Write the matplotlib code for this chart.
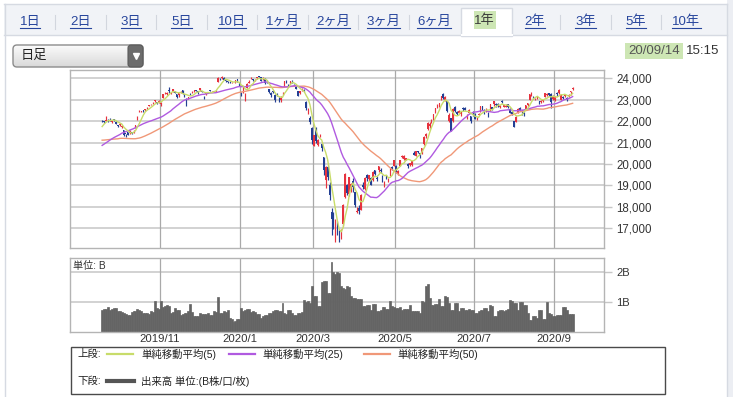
import numpy as np
import pandas as pd
import matplotlib
matplotlib.use('Agg')
import matplotlib.pyplot as plt
from matplotlib.patches import Rectangle, FancyBboxPatch
from matplotlib.colors import LinearSegmentedColormap

plt.rcParams['font.family'] = ['Liberation Sans', 'Noto Sans CJK JP']

# trading days per month on the chart (2019/9/17 .. 2020/9/14)
month_days = [9, 21, 20, 21, 19, 18, 21, 21, 18, 22, 21, 20, 10]
month_names = ['2019/9', '2019/10', '2019/11', '2019/12', '2020/1', '2020/2', '2020/3',
               '2020/4', '2020/5', '2020/6', '2020/7', '2020/8', '2020/9']
shown_months = ['2019/11', '2020/1', '2020/3', '2020/5', '2020/7', '2020/9']

period_tabs = ['1日', '2日', '3日', '5日', '10日', '1ヶ月', '2ヶ月', '3ヶ月', '6ヶ月',
               '1年', '2年', '3年', '5年', '10年']
selected_tab = '1年'

# closes before the first candle, only used for the moving averages
prior_closes = [21746, 21534, 21565, 21533, 21643, 21685, 21535, 21469, 20995, 21466, 21416, 21620,
                21709, 21756, 21658, 21616, 21709, 21521,
                21540, 21087, 20720, 20585, 20516, 20593, 20684, 20455, 20655, 20405, 20418, 20563,
                20677, 20618, 20628, 20710, 20261, 20456, 20479, 20460, 20704,
                20620, 20625, 20649, 21085, 21199, 21318, 21392, 21597, 21759, 21988]

opens = [22014, 22000, 22020, 22100, 22120, 21960, 22100, 21940, 21800,
         21830, 21750, 21590, 21420, 21480, 21430, 21460, 21530, 21690, 22100, 22430, 22450, 22500, 22500,
         22600, 22700, 22790, 22850, 22920, 22880, 22900,
         22810, 23100, 23300, 23290, 23460, 23300, 23350, 23400, 23250, 23200, 23400, 23450, 23250, 23050,
         23100, 23300, 23330, 23400, 23450, 23390,
         23450, 23400, 23150, 23260, 23370, 23460, 23400, 23380, 23410, 23850, 23970, 24000, 24030, 23920,
         23860, 23850, 23830, 23800, 23810, 23950, 23770,
         23320, 23320, 23200, 23540, 23800, 24000, 23950, 23920, 24000, 24100, 24050, 23950, 23980, 23850,
         23500, 23300, 23380, 23200, 23230,
         23000, 22970, 23300, 23600, 23890, 23700, 23800, 23850, 23700, 23610, 23400, 23300, 23450, 23440,
         22900, 22420, 22130, 21680,
         20850, 21640, 20880, 21300, 20950, 20350, 19270, 19870, 19000, 17770, 17590, 16910, 17160, 16800,
         16570, 17220, 18450, 19030, 18580, 18810, 19200,
         18690, 17780, 17950, 17860, 19040, 18840, 19500, 19300, 19340, 19240, 19730, 19360, 19700, 19700,
         19400, 19000, 19440, 19180, 19440, 19850, 19900,
         19930, 19520, 19900, 20330, 20230, 20200, 20000, 19950, 19950, 20500, 20380, 20600, 20500, 20500,
         20920, 21300, 21620, 21790,
         21950, 22100, 22430, 22670, 22700, 23000, 23250, 23000, 22920, 22000, 22150, 22000, 22650, 22430,
         22390, 22320, 22610, 22600, 22200, 22380, 22240, 22340,
         22280, 22130, 22300, 22450, 22720, 22520, 22500, 22380, 22480, 22640, 22780, 22780, 22810, 22650,
         22950, 22680, 22660, 22780, 22570, 22450, 22000,
         21980, 22400, 22600, 22420, 22380, 22520, 22760, 23000, 23200, 23150, 23030, 23100, 22950, 22890,
         22960, 23150, 23200, 23300, 23250, 23030,
         23000, 23300, 23330, 23000, 23150, 23180, 23100, 23180, 23350, 23500]

highs = [22041, 22010, 22255, 22100, 22125, 22030, 22110, 21990, 21830,
         21920, 21810, 21600, 21420, 21500, 21600, 21480, 21570, 21820, 22220, 22500, 22480, 22540, 22560,
         22680, 22770, 22820, 22900, 22990, 22900, 22970,
         22880, 23260, 23340, 23340, 23590, 23360, 23520, 23430, 23260, 23310, 23430, 23460, 23290, 23090,
         23150, 23310, 23390, 23440, 23460, 23420,
         23540, 23430, 23170, 23330, 23380, 23470, 23430, 23430, 23460, 24050, 24010, 24090, 24040, 23930,
         23880, 23870, 23850, 23800, 23930, 23970, 23770,
         23370, 23580, 23300, 23770, 23900, 24060, 23970, 23950, 24060, 24115, 24060, 24050, 24000, 23900,
         23500, 23340, 23440, 23260, 23300,
         23140, 23160, 23350, 23880, 23900, 23720, 23870, 23900, 23730, 23620, 23420, 23420, 23540, 23490,
         22950, 22610, 22250, 21710,
         21350, 21720, 21150, 21400, 20970, 20350, 19890, 19950, 19160, 17960, 17780, 17450, 17350, 16930,
         16950, 18120, 19560, 19090, 19400, 19100, 19330,
         18690, 18000, 18100, 18580, 19170, 19390, 19530, 19500, 19400, 19660, 19730, 19440, 19920, 19800,
         19470, 19190, 19470, 19330, 19830, 19930, 20200,
         19950, 19700, 20200, 20400, 20400, 20290, 20050, 20060, 20150, 20600, 20600, 20630, 20500, 20750,
         21290, 21450, 21960, 21950,
         22090, 22330, 22620, 22800, 22870, 23180, 23300, 23180, 22960, 22360, 22170, 22600, 22730, 22460,
         22530, 22460, 22650, 22670, 22340, 22570, 22250, 22470,
         22360, 22200, 22360, 22730, 22730, 22560, 22600, 22420, 22800, 22670, 22960, 22830, 22840, 22760,
         23000, 22770, 22800, 22800, 22600, 22470, 22030,
         22250, 22600, 22640, 22500, 22420, 22760, 22860, 23250, 23340, 23180, 23100, 23140, 22960, 22970,
         23000, 23300, 23300, 23330, 23310, 23220,
         23170, 23350, 23480, 23240, 23180, 23290, 23130, 23260, 23410, 23580]

lows = [21960, 21920, 21990, 21980, 22020, 21900, 21990, 21860, 21720,
        21780, 21700, 21330, 21277, 21355, 21410, 21380, 21440, 21680, 22070, 22410, 22420, 22440, 22480,
        22590, 22690, 22760, 22820, 22900, 22790, 22850,
        22730, 23090, 23250, 23240, 23330, 23280, 23340, 23300, 23100, 23150, 23320, 23280, 23130, 22730,
        23020, 23220, 23310, 23370, 23390, 23280,
        23430, 23340, 23040, 23230, 23300, 23410, 23370, 23370, 23380, 23840, 23940, 23990, 23920, 23820,
        23760, 23800, 23800, 23760, 23800, 23820, 23640,
        23180, 23320, 22950, 23530, 23780, 23960, 23870, 23860, 23980, 24050, 23860, 23920, 23750, 23770,
        23330, 23120, 23300, 22890, 23160,
        22890, 22900, 23220, 23580, 23780, 23620, 23750, 23790, 23630, 23480, 23160, 23260, 23420, 23350,
        22520, 22340, 21880, 20916,
        20850, 21000, 20850, 21240, 20610, 19470, 18890, 19250, 18340, 16690, 16950, 16380, 16680, 16358,
        16480, 17100, 18410, 18560, 18520, 18710, 18690,
        18000, 17710, 17646, 17860, 18850, 18780, 19210, 19190, 19000, 19220, 19500, 19200, 19650, 19600,
        19150, 18920, 19300, 19160, 19440, 19700, 19900,
        19600, 19470, 19890, 20260, 20200, 20170, 19800, 19900, 19900, 20420, 20360, 20500, 20300, 20480,
        20900, 21230, 21600, 21700,
        21930, 22070, 22400, 22600, 22640, 22990, 23030, 22950, 22450, 21980, 21530, 21980, 22420, 22280,
        22370, 22260, 22460, 22510, 22120, 22370, 21930, 22230,
        22100, 22050, 22270, 22430, 22530, 22350, 22440, 22200, 22460, 22500, 22730, 22650, 22660, 22630,
        22840, 22660, 22640, 22600, 22370, 22280, 21710,
        21950, 22380, 22480, 22300, 22260, 22500, 22700, 22980, 23180, 23050, 22980, 23030, 22800, 22840,
        22900, 23140, 23180, 23170, 22600, 22990,
        22930, 23170, 23280, 22970, 23030, 23140, 22950, 23120, 23230, 23450]

closes = [22001, 21960, 22044, 22079, 22098, 22020, 22048, 21878, 21756,
          21885, 21778, 21341, 21410, 21375, 21587, 21456, 21551, 21798, 22207, 22472, 22451, 22492, 22548,
          22625, 22750, 22799, 22867, 22974, 22843, 22927,
          22850, 23251, 23303, 23330, 23391, 23331, 23520, 23319, 23141, 23303, 23416, 23292, 23148, 23038,
          23112, 23292, 23373, 23437, 23409, 23293,
          23529, 23379, 23135, 23300, 23354, 23430, 23410, 23391, 23424, 24023, 23952, 24066, 23934, 23864,
          23816, 23821, 23830, 23782, 23924, 23837, 23656,
          23204, 23575, 23204, 23739, 23850, 24025, 23916, 23933, 24041, 24083, 23864, 24031, 23795, 23827,
          23343, 23215, 23379, 22977, 23205,
          22971, 23084, 23319, 23873, 23827, 23685, 23861, 23827, 23687, 23523, 23193, 23400, 23479, 23386,
          22605, 22426, 21948, 21142,
          21344, 21082, 21100, 21329, 20749, 19698, 19867, 19416, 18559, 17431, 17002, 17011, 16726, 16552,
          16887, 18092, 19546, 18664, 19389, 19084, 18917,
          18065, 17818, 17820, 18576, 18950, 19353, 19345, 19498, 19043, 19638, 19550, 19290, 19897, 19669,
          19280, 19137, 19429, 19262, 19783, 19771, 20193,
          19619, 19674, 20179, 20390, 20366, 20267, 19914, 20037, 20133, 20433, 20595, 20552, 20388, 20741,
          21271, 21419, 21916, 21877,
          22062, 22325, 22613, 22695, 22863, 23178, 23091, 23124, 22472, 22305, 21530, 22582, 22455, 22355,
          22478, 22437, 22549, 22534, 22259, 22512, 21995, 22288,
          22121, 22145, 22306, 22714, 22614, 22438, 22529, 22290, 22784, 22587, 22945, 22770, 22696, 22717,
          22884, 22751, 22715, 22657, 22397, 22339, 21710,
          22195, 22573, 22514, 22418, 22329, 22750, 22843, 23249, 23289, 23096, 23051, 23110, 22880, 22920,
          22985, 23296, 23290, 23208, 22882, 23139,
          23138, 23247, 23465, 23205, 23089, 23274, 23032, 23235, 23406, 23559]

# volume in billions of shares
volumes = [0.74, 0.77, 0.78, 0.83, 0.74, 0.76, 0.80, 0.79, 0.72,
           0.69, 0.68, 0.63, 0.62, 0.57, 0.58, 0.66, 0.69, 0.70, 0.77, 0.75, 0.72, 0.63, 0.64, 0.63, 0.62,
           0.69, 0.68, 1.03, 0.80, 0.76,
           1.03, 0.85, 0.86, 0.92, 0.88, 0.63, 0.66, 0.80, 0.75, 0.74, 0.57, 0.60, 0.63, 0.64, 0.69, 0.94,
           0.66, 0.52, 0.54, 0.54,
           0.63, 0.62, 0.61, 0.60, 0.63, 0.57, 0.58, 0.69, 0.68, 1.17, 0.63, 0.64, 0.69, 0.68, 0.75, 0.46,
           0.45, 0.35, 0.36, 0.42, 0.45,
           0.80, 0.72, 0.73, 0.77, 0.76, 0.66, 0.69, 0.68, 0.61, 0.60, 0.46, 0.52, 0.57, 0.58, 0.63, 0.64,
           0.69, 0.75, 0.74,
           0.69, 0.70, 0.98, 0.63, 0.62, 0.75, 0.73, 0.63, 0.57, 0.58, 0.63, 0.64, 0.66, 1.07, 1.00, 1.03,
           0.98, 1.53,
           1.20, 1.22, 0.86, 0.88, 1.69, 1.72, 1.70, 1.32, 1.30, 2.36, 2.01, 1.95, 2.01, 1.98, 1.55, 1.46,
           1.45, 1.53, 1.50, 1.21, 1.15,
           1.14, 1.09, 1.10, 1.11, 0.86, 0.88, 0.92, 0.90, 0.75, 0.95, 0.94, 0.69, 0.70, 0.75, 0.84, 0.83,
           0.77, 0.76, 1.03, 0.86, 0.85,
           0.80, 0.81, 0.83, 0.75, 0.76, 0.77, 0.78, 0.92, 0.69, 0.70, 0.69, 0.70, 0.63, 1.03, 1.00, 1.55,
           1.62, 1.15,
           0.92, 0.90, 0.95, 0.94, 1.09, 0.86, 0.87, 1.20, 1.18, 0.98, 0.75, 0.74, 0.98, 0.97, 0.69, 0.80,
           0.81, 0.75, 0.74, 0.77, 0.75, 0.74,
           0.63, 0.64, 0.69, 0.75, 0.74, 0.80, 0.81, 0.69, 0.89, 0.88, 0.54, 0.55, 0.69, 0.75, 0.74, 0.72,
           0.73, 0.77, 1.07, 1.05, 0.98,
           0.97, 0.75, 1.00, 1.01, 0.92, 0.91, 0.63, 0.40, 0.41, 0.54, 0.55, 0.46, 0.75, 0.74, 0.43, 0.42,
           1.00, 0.63, 0.62, 0.54,
           0.55, 0.57, 0.57, 0.58, 0.84, 0.83, 0.75, 0.61, 0.62, 0.60]

UP = '#e6323e'
DOWN = '#233f94'
MA_COLORS = {5: '#c8dc6a', 25: '#b05ae0', 50: '#f09878'}
GRID = '#c6c6c6'
FRAME = '#b4b4b4'
VOL = '#646464'

W, H = 733, 397
fig = plt.figure(figsize=(W / 100, H / 100), dpi=100)


def px(x0, y0, x1, y1):
    return [x0 / W, 1 - y1 / H, (x1 - x0) / W, (y1 - y0) / H]


# ---- page furniture (tabs, dropdown, timestamp, legend) ----
ui = fig.add_axes([0, 0, 1, 1], zorder=0)
ui.set_xlim(0, W)
ui.set_ylim(H, 0)
ui.axis('off')

ui.add_patch(Rectangle((4, 4), 723, 30.5, fc='#f1f3f7', ec='none'))
ui.add_patch(Rectangle((727, 0), 6, H, fc='#eceef3', ec='none'))
ui.plot([4, 727], [4, 4], color='#d6dae2', lw=1)
ui.plot([4, 727], [34.5, 34.5], color='#d6dae2', lw=1)
ui.plot([4.5, 4.5], [4, H], color='#d6dae2', lw=1)
ui.plot([726.5, 726.5], [4, H], color='#d6dae2', lw=1)

sel = period_tabs.index(selected_tab)
tab_step = 50.5
tab_x0 = 30
for i, lab in enumerate(period_tabs):
    cx = tab_x0 + tab_step * i
    if lab == selected_tab:
        ui.add_patch(Rectangle((cx - 23.5, 8), 51, 27.5, fc='white', ec='#d6dae2', lw=1, zorder=2))
        ui.plot([cx - 23, cx + 27], [34.5, 34.5], color='white', lw=1.5, zorder=3)
        ui.add_patch(Rectangle((cx - 11, 11), 22, 18, fc='#cde6b4', ec='none', zorder=3))
        ui.text(cx, 20.5, lab, ha='center', va='center', fontsize=9.5, color='#3a3a3a', zorder=4)
    else:
        ui.text(cx, 21.5, lab, ha='center', va='center', fontsize=9.5, color='#27459c')
    if i < len(period_tabs) - 1 and i not in (sel - 1, sel):
        sx = cx + tab_step / 2
        ui.plot([sx, sx], [15, 29], color='#d2d6de', lw=0.8)

fig.canvas.draw()
renderer = fig.canvas.get_renderer()
inv = ui.transData.inverted()
for t in ui.texts:
    if t.get_text() in period_tabs and t.get_text() != selected_tab:
        bb = t.get_window_extent(renderer)
        (x0, _), (x1, _) = inv.transform([[bb.x0, bb.y0], [bb.x1, bb.y1]])
        ui.plot([x0, x1], [28.3, 28.3], color='#27459c', lw=0.8)

# dropdown "日足"
drop = FancyBboxPatch((13, 45), 130, 22, boxstyle='round,pad=0,rounding_size=4',
                      fc='none', ec='#8c8c8c', lw=1, zorder=3)
ui.add_patch(drop)
grad = np.linspace(0, 1, 40).reshape(-1, 1)
im = ui.imshow(grad, extent=(13, 143, 67, 45), origin='upper', aspect='auto', zorder=2,
               cmap=LinearSegmentedColormap.from_list('g', ['#fbfbfb', '#d9d9d9']))
im.set_clip_path(drop)
btn = FancyBboxPatch((128, 45), 15, 22, boxstyle='round,pad=0,rounding_size=3',
                     fc='#6c6c6c', ec='#5a5a5a', lw=0.8, zorder=4)
ui.add_patch(btn)
ui.plot([135.5], [55.5], marker='v', ms=4, color='white', zorder=5)
ui.text(21, 56, '日足', ha='left', va='center', fontsize=9.5, color='#222222', zorder=5)

# timestamp
ui.add_patch(Rectangle((625, 43), 58, 16, fc='#cde6b4', ec='none'))
ui.text(654, 51.5, '20/09/14', ha='center', va='center', fontsize=9.5, color='#555555')
ui.text(686, 51.5, '15:15', ha='left', va='center', fontsize=9.5, color='#333333')

ui.set_xlim(0, W)
ui.set_ylim(H, 0)

# ---- data ----
n = len(closes)
x = np.arange(n)
o = np.array(opens, dtype=float)
h = np.array(highs, dtype=float)
l = np.array(lows, dtype=float)
c = np.array(closes, dtype=float)
colors = np.where(c >= o, UP, DOWN)

all_closes = pd.Series(prior_closes + closes, dtype=float)
k = len(prior_closes)
ma = {w: all_closes.rolling(w).mean().to_numpy()[k:] for w in (5, 25, 50)}

starts = np.cumsum([0] + month_days[:-1])
month_pos = [starts[month_names.index(m)] - 0.5 for m in shown_months]
xlim = (-16.4, 256.0)

# ---- price panel ----
ax = fig.add_axes(px(70, 70, 604, 248), zorder=1)
ax.set_facecolor('white')
ax.set_xlim(*xlim)
ax.set_ylim(16081, 24387)
price_ticks = list(range(17000, 24001, 1000))
for yv in price_ticks:
    ax.axhline(yv, color=GRID, lw=1.1, zorder=0)
for xv in month_pos:
    ax.axvline(xv, color='#a9a9a9', lw=0.9, zorder=0)

ax.vlines(x, l, h, colors=colors, lw=0.85, zorder=2)
ax.bar(x, np.maximum(np.abs(c - o), 15), bottom=np.minimum(o, c), width=0.8,
       color=colors, lw=0, zorder=3)
for w in (50, 25, 5):
    ax.plot(x, ma[w], color=MA_COLORS[w], lw=1.0, zorder=4)

ax.set_xticks([])
ax.yaxis.tick_right()
ax.set_yticks(price_ticks)
ax.set_yticklabels([f'{v:,}' for v in price_ticks])
ax.tick_params(axis='y', length=6, width=1, color=GRID, labelsize=8.3,
               labelcolor='#333333', pad=3)
for s in ax.spines.values():
    s.set_color(FRAME)
    s.set_linewidth(1)

# ---- volume panel ----
axv = fig.add_axes(px(70, 258, 604, 332), zorder=1)
axv.set_facecolor('white')
axv.set_xlim(*xlim)
axv.set_ylim(0, 2.48)
for yv in (1, 2):
    axv.axhline(yv, color=GRID, lw=1.1, zorder=0)
for xv in month_pos:
    axv.axvline(xv, color='#a9a9a9', lw=0.9, zorder=0)
axv.bar(x, volumes, width=1.0, color=VOL, ec=VOL, lw=0.5, zorder=2)

axv.yaxis.tick_right()
axv.set_yticks([1, 2])
axv.set_yticklabels(['1B', '2B'])
axv.tick_params(axis='y', length=6, width=1, color=GRID, labelsize=8,
                labelcolor='#333333', pad=3)
axv.set_xticks(month_pos)
axv.set_xticklabels(shown_months)
axv.tick_params(axis='x', length=0, labelsize=8.2, labelcolor='#333333', pad=1.5)
axv.text(0.006, 0.955, '単位: B', transform=axv.transAxes, ha='left', va='top',
         fontsize=7.3, color='#333333', zorder=5)
for s in axv.spines.values():
    s.set_color(FRAME)
    s.set_linewidth(1)

# ---- legend box ----
ui.add_patch(Rectangle((70.5, 346.5), 594, 47, fc='white', ec='#4a4a4a', lw=1, zorder=1))
row1, row2 = 354, 381
ui.text(77, row1, '上段:', ha='left', va='center', fontsize=7.5, color='#222222', zorder=2)
legend_items = [(5, 107, 141), (25, 229, 262), (50, 364, 397)]
for w, lx, tx in legend_items:
    ui.plot([lx, lx + 26], [row1, row1], color=MA_COLORS[w], lw=1.6, zorder=2)
    ui.text(tx, row1, f'単純移動平均({w})', ha='left', va='center', fontsize=7.5,
            color='#222222', zorder=2)
ui.text(77, row2, '下段:', ha='left', va='center', fontsize=7.5, color='#222222', zorder=2)
ui.plot([107, 134], [row2, row2], color='#555555', lw=3, zorder=2)
ui.text(141, row2, '出来高 単位:(B株/口/枚)', ha='left', va='center', fontsize=7.5,
        color='#222222', zorder=2)

fig.savefig('out.png', dpi=100, facecolor='white')
